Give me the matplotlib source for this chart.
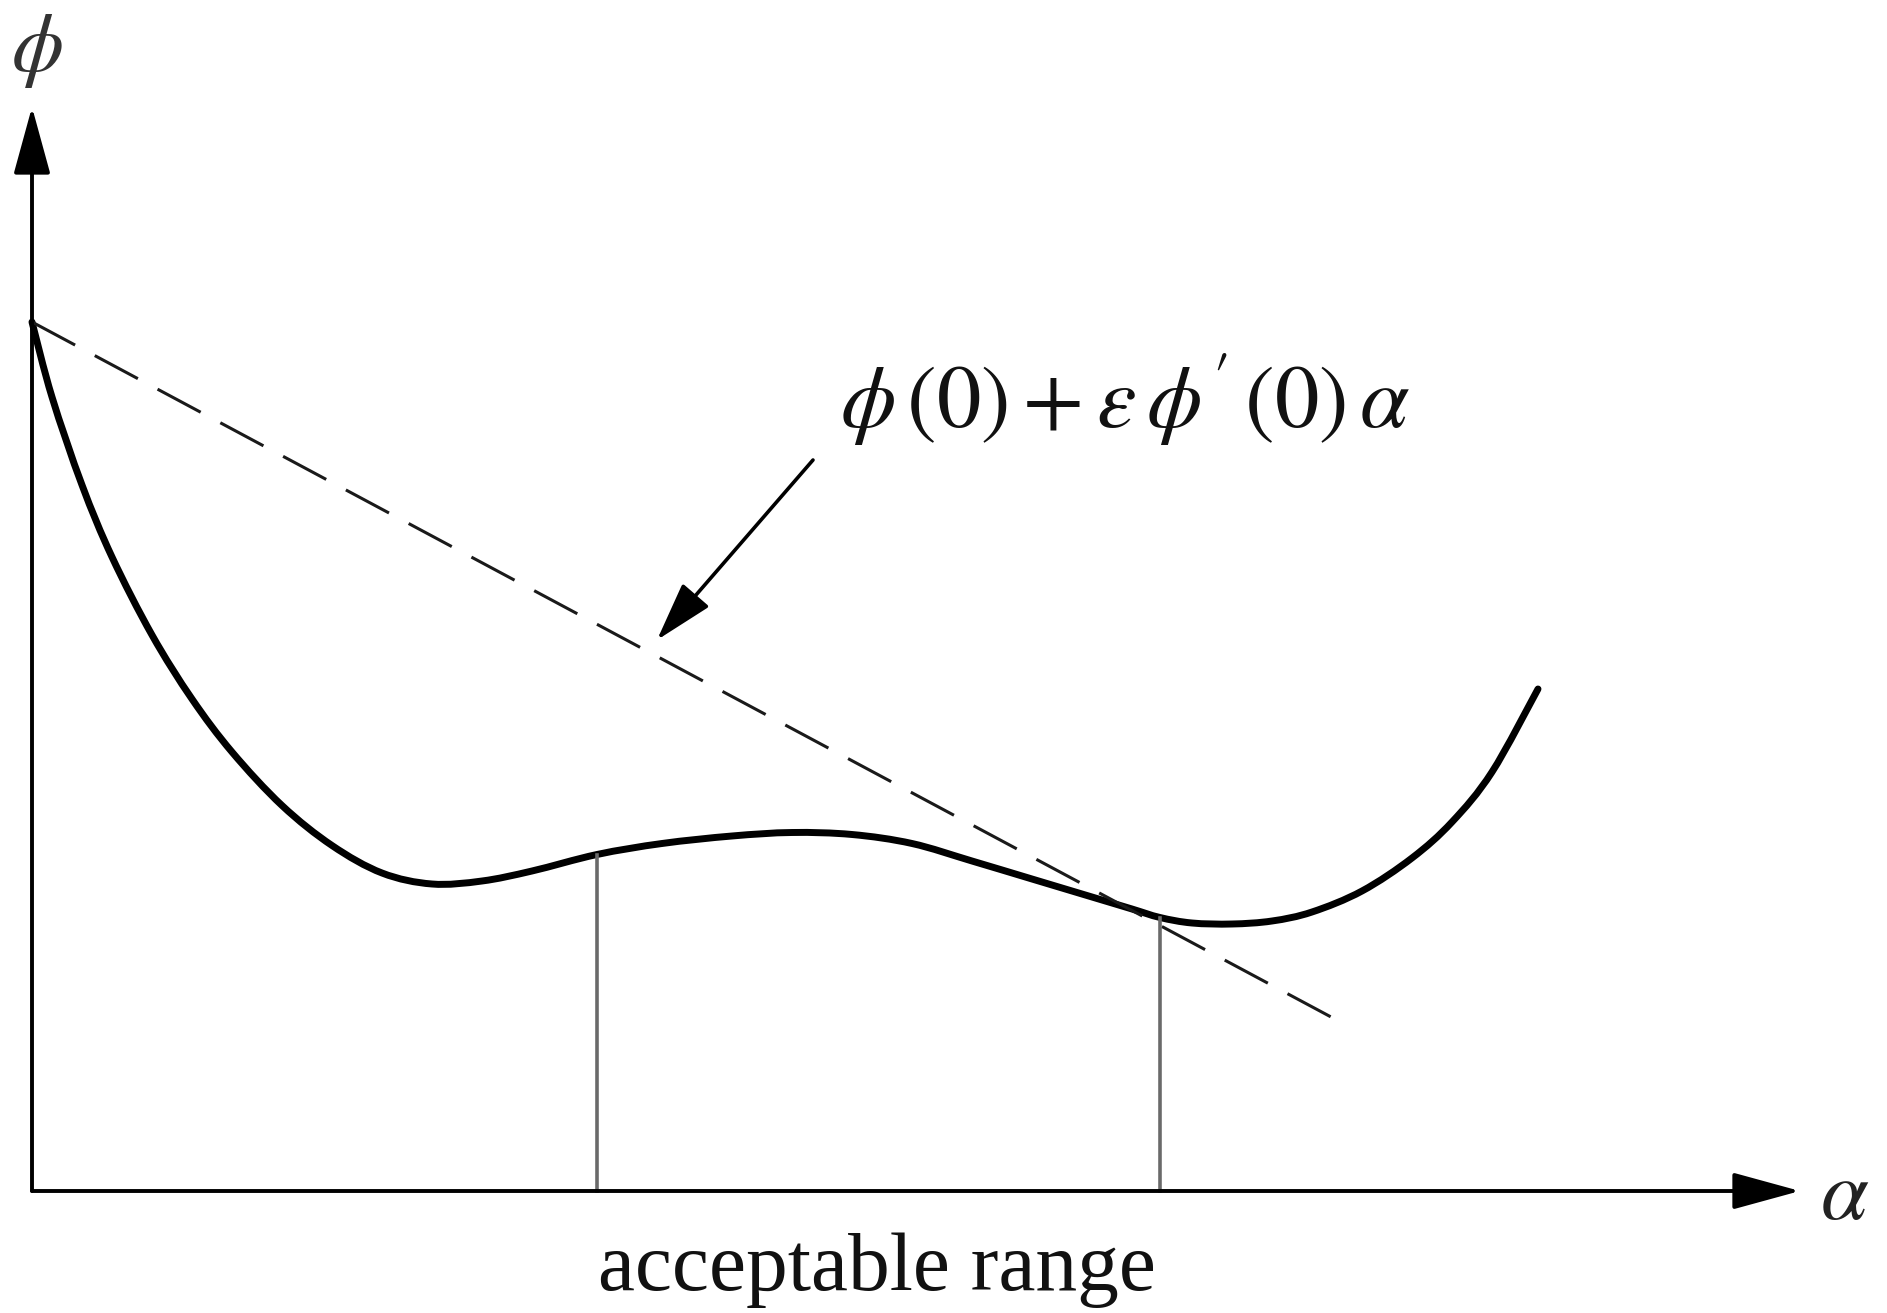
import numpy as np
import matplotlib
matplotlib.use("Agg")
import matplotlib.pyplot as plt
from matplotlib.path import Path
from matplotlib.patches import PathPatch

plt.rcParams['mathtext.fontset'] = 'stix'

# ---- data (alpha, phi) ----
alpha = [0.00, 0.20, 0.50, 0.80, 1.20, 1.60, 2.00, 2.50, 3.00, 3.50, 4.00,
         4.50, 5.00, 5.65, 6.30, 7.00, 7.60, 8.20, 8.80, 9.40, 10.00, 10.60,
         11.00, 11.28, 11.60, 12.00, 12.40, 12.80, 13.30, 13.80, 14.20,
         14.60, 15.06]
phi = [8.69, 7.94, 7.06, 6.34, 5.56, 4.92, 4.39, 3.855, 3.455, 3.18, 3.07,
       3.10, 3.20, 3.365, 3.475, 3.55, 3.585, 3.565, 3.475, 3.30, 3.12, 2.94,
       2.82, 2.735, 2.68, 2.67, 2.70, 2.79, 3.00, 3.33, 3.69,
       4.19, 5.02]

phi0 = 8.69            # phi(0)
eps_slope = -0.535     # eps * phi'(0)
alpha_line_end = 13.0

range_bounds = [5.65, 11.28]

x_axis_end = 17.68
y_axis_end = 10.84

formula = r"$\phi\,(0)+\varepsilon\,\phi'\,(0)\,\alpha$"
range_label = "acceptable range"

# ---- figure ----
fig = plt.figure(figsize=(18.87, 13.13), dpi=100)
ax = fig.add_axes([0, 0, 1, 1])
ax.set_xlim(-0.32, 18.55)
ax.set_ylim(-1.22, 11.91)
ax.axis('off')

# axes with arrows
arrow_kw = dict(arrowstyle='-|>,head_length=4.2,head_width=1.15',
                lw=2.8, color='black', shrinkA=0, shrinkB=0, mutation_scale=10)
ax.annotate('', xy=(0, y_axis_end), xytext=(0, 0), arrowprops=arrow_kw)
ax.annotate('', xy=(x_axis_end, 0), xytext=(0, 0), arrowprops=arrow_kw)

# main curve: smooth path through the read points (Catmull-Rom -> Bezier)
pts = np.column_stack([alpha, phi])
n = len(pts)
verts = [pts[0]]
codes = [Path.MOVETO]
for i in range(n - 1):
    p0 = pts[max(i - 1, 0)]
    p1 = pts[i]
    p2 = pts[i + 1]
    p3 = pts[min(i + 2, n - 1)]
    c1 = p1 + (p2 - p0) / 6.0
    c2 = p2 - (p3 - p1) / 6.0
    verts += [c1, c2, p2]
    codes += [Path.CURVE4] * 3
ax.add_patch(PathPatch(Path(verts, codes), fill=False, edgecolor='black',
                       lw=5.0, capstyle='round', joinstyle='round'))

# dashed sufficient-decrease line
a_line = np.array([0.0, alpha_line_end])
ax.plot(a_line, phi0 + eps_slope * a_line, color='#1a1a1a', lw=2.2,
        dashes=(16.0, 7.3))

# vertical lines marking the acceptable range
for b in range_bounds:
    h = np.interp(b, alpha, phi)
    ax.plot([b, b], [0, h], color='#6a6a6a', lw=2.6)

# labels
ax.text(0.05, 11.41, r"$\phi$", fontsize=60, ha='center', va='center',
        color='#333333')
ax.text(18.13, -0.05, r"$\alpha$", fontsize=62, ha='center', va='center',
        color='#222222')
ax.text(10.93, 7.91, formula, fontsize=64, ha='center', va='center',
        color='#111111')
ax.text(8.45, -0.99, range_label, fontsize=60, ha='center', va='baseline',
        family='Liberation Serif', color='#111111')

# annotation arrow pointing to the dashed line
ax.annotate('', xy=(6.25, 5.51), xytext=(7.81, 7.31),
            arrowprops=dict(arrowstyle='-|>,head_length=3.7,head_width=1.1',
                            lw=2.6, color='black', shrinkA=0, shrinkB=0,
                            mutation_scale=10))

fig.savefig('out.png', dpi=100, facecolor='white')
